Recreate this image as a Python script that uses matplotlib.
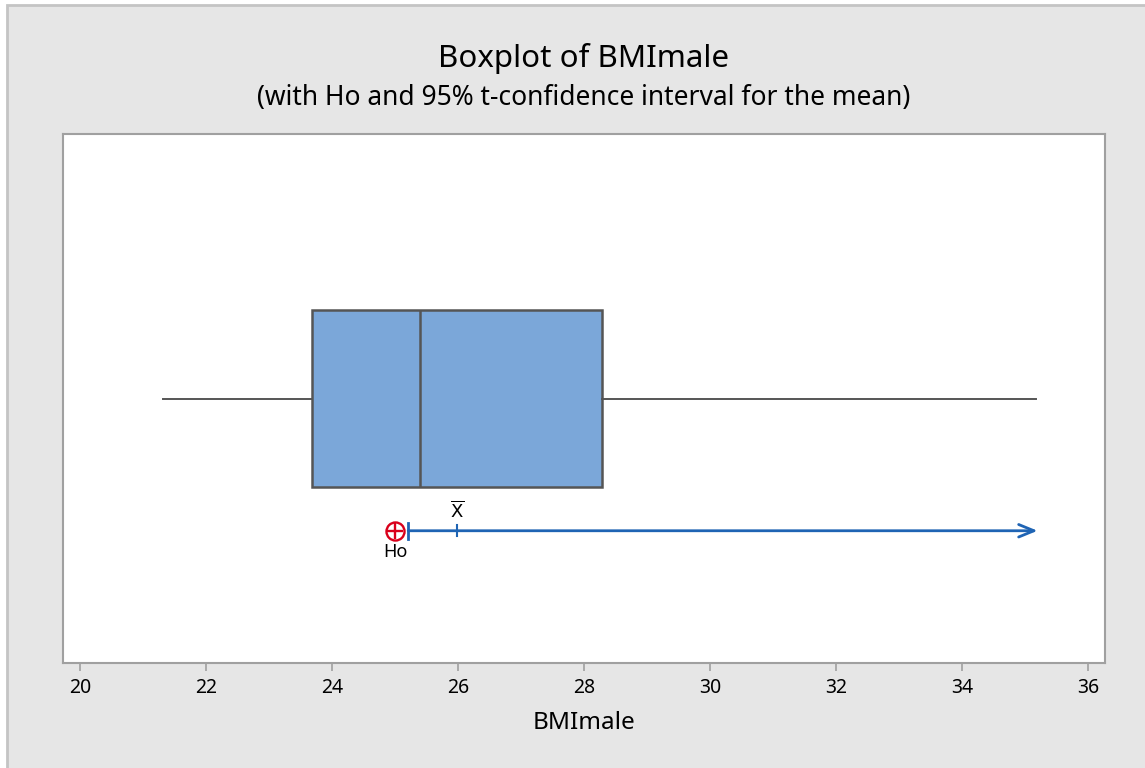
import matplotlib.pyplot as plt
from matplotlib.patches import Rectangle

# box plot summary
whisker_low = 21.32
q1 = 23.68
median = 25.40
q3 = 28.29
whisker_high = 35.17

# t interval (one-sided, lower bound) and test value
ci_low = 25.21
ci_high = 35.17
mean = 25.98
h0 = 25.0

xticks = [20, 22, 24, 26, 28, 30, 32, 34, 36]

plt.rcParams['font.family'] = ['Noto Sans', 'DejaVu Sans']

fig = plt.figure(figsize=(11.45, 7.68), dpi=100, facecolor='white')
# grey panel behind the chart
fig.patches.append(Rectangle((7 / 1145, -0.1), 1.2, (768 - 5) / 768 + 0.1,
                             transform=fig.transFigure, facecolor='#e6e6e6',
                             edgecolor='#c4c4c4', linewidth=2, zorder=-5))

ax = fig.add_axes([63 / 1145, 1 - 663 / 768, (1105 - 63) / 1145, (663 - 134) / 768])
ax.set_facecolor('white')

stats = [{'whislo': whisker_low, 'q1': q1, 'med': median, 'q3': q3,
          'whishi': whisker_high, 'fliers': []}]
ax.bxp(stats, positions=[0.5], widths=0.336, vert=False, showcaps=False,
       patch_artist=True,
       boxprops=dict(facecolor='#7ba7d9', edgecolor='#555555', linewidth=1.8),
       medianprops=dict(color='#555555', linewidth=1.8),
       whiskerprops=dict(color='#555555', linewidth=1.4))

ci_y = 0.25
blue = '#1f64b4'
ax.annotate('', xy=(ci_high + 0.03, ci_y), xytext=(ci_low, ci_y),
            arrowprops=dict(arrowstyle='->,head_length=1.1,head_width=0.45',
                            color=blue, lw=2, shrinkA=0, shrinkB=0))
ax.plot([ci_low, ci_low], [ci_y - 0.015, ci_y + 0.015], color=blue, lw=2)
ax.plot([mean, mean], [ci_y - 0.01, ci_y + 0.01], color=blue, lw=1.5)
ax.text(mean, ci_y + 0.018, r'$\overline{\mathrm{X}}$', ha='center', va='bottom',
        fontsize=13)

ax.plot(h0, ci_y, marker='o', markersize=13, markerfacecolor='none',
        markeredgecolor='#d9001b', markeredgewidth=1.7)
ax.plot(h0, ci_y, marker='+', markersize=11, color='#d9001b', markeredgewidth=1.7)
ax.text(h0, ci_y - 0.024, 'Ho', ha='center', va='top', fontsize=13)

ax.set_xlim(20 - 17 / 63, 36 + 17 / 63)
ax.set_ylim(0, 1)
ax.set_xticks(xticks)
ax.set_xticklabels([str(t) for t in xticks], fontsize=14)
ax.set_yticks([])
ax.tick_params(axis='x', length=6, width=1.2, color='#a0a0a0', pad=5)
for s in ax.spines.values():
    s.set_color('#a0a0a0')
    s.set_linewidth(1.5)
ax.set_xlabel('BMImale', fontsize=17.5, labelpad=9)

fig.text((63 + 1105) / 2 / 1145, 1 - 58 / 768, 'Boxplot of BMImale',
         ha='center', va='center', fontsize=22.5)
fig.text((63 + 1105) / 2 / 1145, 1 - 98 / 768,
         '(with Ho and 95% t-confidence interval for the mean)',
         ha='center', va='center', fontsize=19)

fig.savefig('out.png', dpi=100, facecolor=fig.get_facecolor())
